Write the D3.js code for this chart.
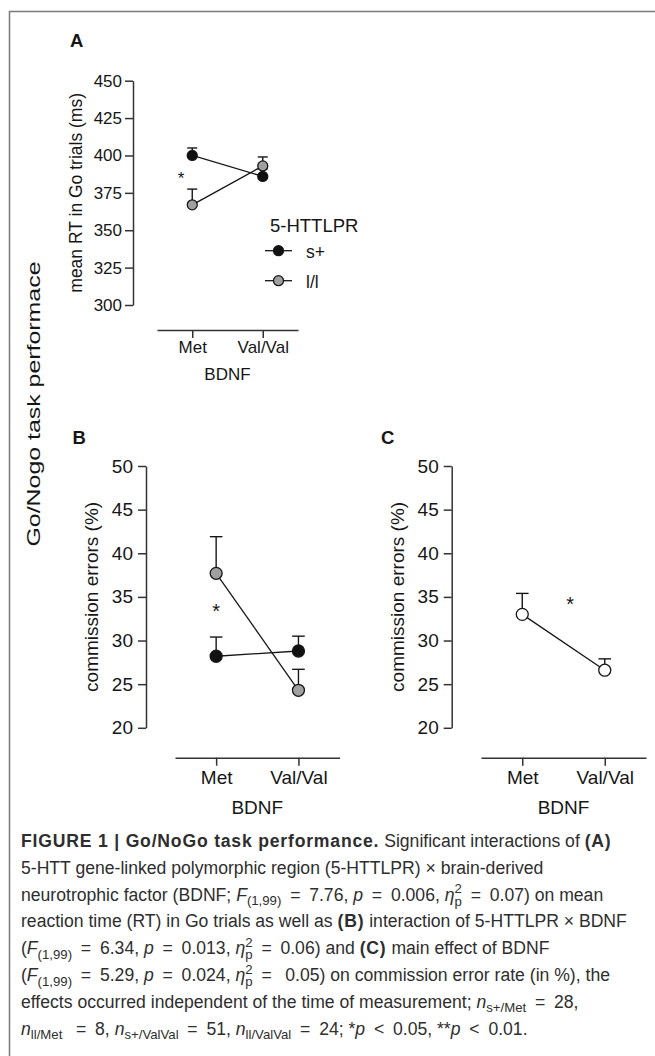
<!DOCTYPE html>
<html>
<head>
<meta charset="utf-8">
<script src="https://cdn.jsdelivr.net/npm/d3@7"></script>
<style>
  body { margin: 0; background: #fff; }
  svg { display: block; font-family: "Liberation Sans", Arial, sans-serif; }
</style>
</head>
<body>
<div id="chart"></div>
<script>
// BDNF genotype groups on every x axis
const genotypes = ["Met", "Val/Val"];

// A: mean RT in Go trials (ms), by 5-HTTLPR group
const rtSPlus = [400, 386];
const rtSPlusSem = [5, 5];
const rtLL = [367, 393];
const rtLLSem = [10.5, 6];
const rtTicks = [300, 325, 350, 375, 400, 425, 450];

// B: commission errors (%), by 5-HTTLPR group
const ceSPlus = [28.2, 28.8];
const ceSPlusSem = [2.2, 1.7];
const ceLL = [37.7, 24.3];
const ceLLSem = [4.2, 2.4];

// C: commission errors (%), main effect of BDNF
const ceAll = [33.0, 26.6];
const ceAllSem = [2.4, 1.3];
const ceTicks = [20, 25, 30, 35, 40, 45, 50];

const legendLabels = ["s+", "l/l"];

const W = 655, H = 1056;
const svg = d3.select("#chart").append("svg")
    .attr("width", W)
    .attr("height", H);

// figure frame (only top and left edges fall inside the crop)
svg.append("path")
    .attr("d", `M9.5,${H} V11.5 H${W}`)
    .attr("fill", "none")
    .attr("stroke", "#7a7a7a")
    .attr("stroke-width", 1.5);

const ink = "#161616";
const axisInk = "#333";

function drawPanel(o) {
    const g = svg.append("g");
    const y = d3.scaleLinear().domain(o.yDomain).range([o.yBottom, o.yTop]);
    const x = d3.scalePoint().domain(genotypes).range(o.xRange).padding(0.5);

    const yAxis = g.append("g")
        .attr("transform", `translate(${o.yAxisX},0)`)
        .call(d3.axisLeft(y).tickValues(o.ticks).tickSize(8).tickSizeOuter(0).tickPadding(o.pad));
    const xAxis = g.append("g")
        .attr("transform", `translate(0,${o.xAxisY})`)
        .call(d3.axisBottom(x).tickSize(8).tickSizeOuter(0).tickPadding(o.pad));

    [yAxis, xAxis].forEach(a => {
        a.attr("font-family", null).attr("font-size", o.fs);
        a.selectAll("path, line").attr("stroke", axisInk).attr("stroke-width", 1.5);
        a.selectAll("text").attr("fill", ink);
    });

    // x title
    g.append("text")
        .attr("x", (o.xRange[0] + o.xRange[1]) / 2)
        .attr("y", o.bdnfY)
        .attr("text-anchor", "middle")
        .attr("font-size", o.fs)
        .attr("fill", ink)
        .text("BDNF");

    // y title
    g.append("text")
        .attr("transform", `translate(${o.titleX},${(o.yTop + o.yBottom) / 2}) rotate(-90)`)
        .attr("text-anchor", "middle")
        .attr("font-size", o.titleFs)
        .attr("fill", ink)
        .text(o.title);

    // panel letter
    g.append("text")
        .attr("x", o.letterX)
        .attr("y", o.letterY)
        .attr("font-size", o.letterFs)
        .attr("font-weight", "bold")
        .attr("fill", ink)
        .text(o.letter);

    const rows = o.series.map(s => genotypes.map((k, i) => ({k, m: s.mean[i], e: s.sem[i], fill: s.fill})));

    // error bars (upper only)
    rows.forEach(r => {
        const eg = g.append("g").attr("stroke", ink).attr("stroke-width", 1.4);
        eg.selectAll(".stem").data(r).join("line")
            .attr("x1", d => x(d.k)).attr("x2", d => x(d.k))
            .attr("y1", d => y(d.m)).attr("y2", d => y(d.m + d.e));
        eg.selectAll(".cap").data(r).join("line")
            .attr("x1", d => x(d.k) - o.cap).attr("x2", d => x(d.k) + o.cap)
            .attr("y1", d => y(d.m + d.e)).attr("y2", d => y(d.m + d.e));
    });

    const line = d3.line().x(d => x(d.k)).y(d => y(d.m));
    rows.forEach(r => {
        g.append("path")
            .datum(r)
            .attr("d", line)
            .attr("fill", "none")
            .attr("stroke", ink)
            .attr("stroke-width", 1.3);
    });

    rows.forEach(r => {
        g.selectAll(null).data(r).join("circle")
            .attr("cx", d => x(d.k))
            .attr("cy", d => y(d.m))
            .attr("r", o.r)
            .attr("fill", d => d.fill)
            .attr("stroke", ink)
            .attr("stroke-width", 1.3);
    });

    // significance star
    g.append("text")
        .attr("x", x(genotypes[0]) + o.star[0] * (x(genotypes[1]) - x(genotypes[0])))
        .attr("y", y(o.star[1]))
        .attr("text-anchor", "middle")
        .attr("font-size", o.starFs)
        .attr("fill", ink)
        .text("*");

    return {g, x, y};
}

const black = "#111", grey = "#a0a0a0";

drawPanel({
    letter: "A", letterX: 70, letterY: 46.5, letterFs: 18.5,
    yDomain: [300, 450], yTop: 80.7, yBottom: 305, ticks: rtTicks,
    yAxisX: 133, xRange: [157, 298], xAxisY: 330, pad: 3,
    fs: 17, titleFs: 17.5, titleX: 82, bdnfY: 380,
    title: "mean RT in Go trials (ms)",
    series: [
        {mean: rtSPlus, sem: rtSPlusSem, fill: black},
        {mean: rtLL, sem: rtLLSem, fill: grey}
    ],
    r: 5, cap: 5, star: [-0.16, 381], starFs: 17
});

drawPanel({
    letter: "B", letterX: 72.5, letterY: 443.5, letterFs: 18.5,
    yDomain: [20, 50], yTop: 466, yBottom: 727.8, ticks: ceTicks,
    yAxisX: 146, xRange: [175, 339.6], xAxisY: 757.7, pad: 5,
    fs: 19, titleFs: 19, titleX: 98, bdnfY: 814,
    title: "commission errors (%)",
    series: [
        {mean: ceSPlus, sem: ceSPlusSem, fill: black},
        {mean: ceLL, sem: ceLLSem, fill: grey}
    ],
    r: 6, cap: 6.3, star: [0, 32.6], starFs: 20
});

drawPanel({
    letter: "C", letterX: 381, letterY: 443.5, letterFs: 18.5,
    yDomain: [20, 50], yTop: 466, yBottom: 727.8, ticks: ceTicks,
    yAxisX: 451.7, xRange: [481, 646], xAxisY: 757.7, pad: 5,
    fs: 19, titleFs: 19, titleX: 404, bdnfY: 814,
    title: "commission errors (%)",
    series: [
        {mean: ceAll, sem: ceAllSem, fill: "#fff"}
    ],
    r: 6, cap: 6.3, star: [0.58, 33.4], starFs: 20
});

// legend for panel A
const leg = svg.append("g").attr("fill", ink);
leg.append("text")
    .attr("x", 270).attr("y", 232)
    .attr("font-size", 18.5)
    .text("5-HTTLPR");
const legFills = [black, grey];
legendLabels.forEach((lab, i) => {
    const ly = 250.7 + i * 30;
    leg.append("line")
        .attr("x1", 265).attr("x2", 292).attr("y1", ly).attr("y2", ly)
        .attr("stroke", ink).attr("stroke-width", 1.3);
    leg.append("circle")
        .attr("cx", 278.5).attr("cy", ly).attr("r", 5)
        .attr("fill", legFills[i]).attr("stroke", ink).attr("stroke-width", 1.3);
    leg.append("text")
        .attr("x", 306).attr("y", ly + 7.5)
        .attr("font-size", 17.5)
        .text(lab);
});

// side label
svg.append("text")
    .attr("transform", "translate(40,404) rotate(-90)")
    .attr("text-anchor", "middle")
    .attr("font-size", 18)
    .attr("fill", ink)
    .attr("textLength", 285)
    .attr("lengthAdjust", "spacingAndGlyphs")
    .text("Go/Nogo task performace");

// caption
const E = "\u2002=\u2002", L = "\u2002<\u2002";
const captionLines = [
    [["FIGURE 1 | Go/NoGo task performance.", "b"], [" Significant interactions of ", ""], ["(A)", "b"]],
    [["5-HTT gene-linked polymorphic region (5-HTTLPR) \u00d7 brain-derived", ""]],
    [["neurotrophic factor (BDNF; ", ""], ["F", "i"], ["(1,99)", "sub"], [E + "7.76, ", ""], ["p", "i"], [E + "0.006, ", ""], ["\u03b7", "i"], ["", "eta"], [E + "0.07) on mean", ""]],
    [["reaction time (RT) in Go trials as well as ", ""], ["(B)", "b"], [" interaction of 5-HTTLPR \u00d7 BDNF", ""]],
    [["(", ""], ["F", "i"], ["(1,99)", "sub"], [E + "6.34, ", ""], ["p", "i"], [E + "0.013, ", ""], ["\u03b7", "i"], ["", "eta"], [E + "0.06) and ", ""], ["(C)", "b"], [" main effect of BDNF", ""]],
    [["(", ""], ["F", "i"], ["(1,99)", "sub"], [E + "5.29, ", ""], ["p", "i"], [E + "0.024, ", ""], ["\u03b7", "i"], ["", "eta"], [E + " 0.05) on commission error rate (in %), the", ""]],
    [["effects occurred independent of the time of measurement; ", ""], ["n", "i"], ["s+/Met", "sub"], [E + "28,", ""]],
    [["n", "i"], ["ll/Met", "sub"], [" " + E + "8, ", ""], ["n", "i"], ["s+/ValVal", "sub"], [E + "51, ", ""], ["n", "i"], ["ll/ValVal", "sub"], [E + "24; *", ""], ["p", "i"], [L + "0.05, **", ""], ["p", "i"], [L + "0.01.", ""]]
];

const capFs = 17.6, capSmall = 13.2;
const cap = svg.append("g")
    .attr("font-size", capFs)
    .attr("fill", "#2e2e2e");

captionLines.forEach((segs, li) => {
    const t = cap.append("text")
        .attr("x", 21)
        .attr("y", 847 + li * 26.8)
        .attr("xml:space", "preserve");
    let shift = 0;
    const put = (str, target, attrs) => {
        const ts = t.append("tspan").attr("dy", target - shift).text(str);
        shift = target;
        Object.entries(attrs || {}).forEach(([k, v]) => ts.attr(k, v));
        return ts;
    };
    segs.forEach(([str, s]) => {
        if (s === "b") put(str, 0, {"font-weight": "bold", "letter-spacing": 0.8});
        else if (s === "i") put(str, 0, {"font-style": "italic"});
        else if (s === "sub") put(str, 4.5, {"font-size": capSmall});
        else if (s === "eta") {
            put("2", -7.5, {"font-size": capSmall});
            put("p", 5, {"font-size": capSmall, "dx": -7.3});
        }
        else put(str, 0);
    });
});
</script>
</body>
</html>
